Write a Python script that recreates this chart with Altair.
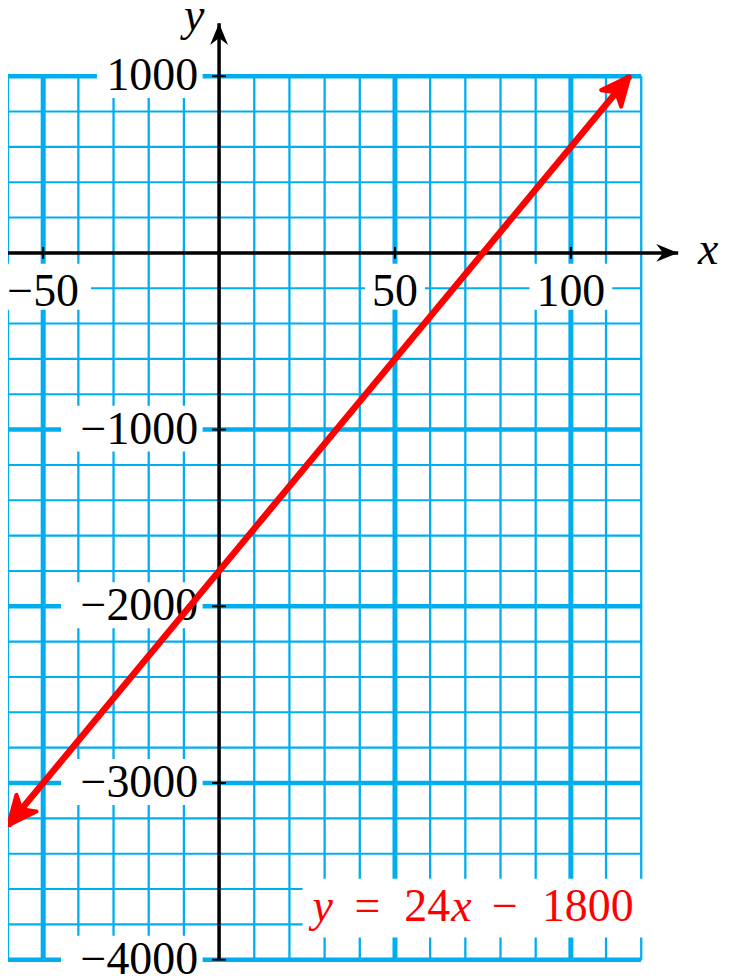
import math
import altair as alt
import pandas as pd

# ---------------- data ----------------
x_domain = [-60, 120]
y_domain = [-4000, 1000]
x_minor = list(range(-60, 121, 10))
x_major = [-50, 50, 100]
y_minor = list(range(-4000, 1001, 200))
y_major = [1000, -1000, -2000, -3000, -4000]
x_tick_vals = [-50, 50, 100]
x_tick_labels = ["−50", "50", "100"]
y_tick_vals = [1000, -1000, -2000, -3000, -4000]
y_tick_labels = ["1000", "−1000", "−2000", "−3000", "−4000"]
line_x = [-60, 116.7]
line_y = [-3240, 1000]
axis_x_end = 130.5
axis_y_end = 1300
eq_x = [72.5]
eq_y = [-3700]
eq_parts = ["y", "=", "24", "x", "−", "1800"]
eq_italic = [True, False, False, True, False, False]

# ---------------- style ----------------
W, H = 635, 886
BLUE = "#00AEEF"
RED = "#FF0000"
FONT = "Liberation Serif, Times New Roman, serif"
FS = 46
eq_dx = [-162, -120, -70, -23, 18, 68]

xs = alt.Scale(domain=x_domain, nice=False, zero=False)
ys = alt.Scale(domain=y_domain, nice=False, zero=False)
X = lambda f="x": alt.X(f"{f}:Q", scale=xs, axis=None)
Y = lambda f="y": alt.Y(f"{f}:Q", scale=ys, axis=None)


def text_w(s):
    return sum(36 if c == "−" else 23 for c in s) + 14


# grid
vminor = alt.Chart(pd.DataFrame({"x": x_minor})).mark_rule(color=BLUE, strokeWidth=2.3).encode(x=X())
hminor = alt.Chart(pd.DataFrame({"y": y_minor})).mark_rule(color=BLUE, strokeWidth=2.1).encode(y=Y())
vmajor = alt.Chart(pd.DataFrame({"x": x_major})).mark_rule(color=BLUE, strokeWidth=5).encode(x=X())
hmajor = alt.Chart(pd.DataFrame({"y": y_major})).mark_rule(color=BLUE, strokeWidth=4.5).encode(y=Y())

# label backgrounds
ybox = pd.DataFrame({
    "x": [0] * len(y_tick_vals),
    "y": y_tick_vals,
    "label": y_tick_labels,
})
ybox["path"] = [f"M{-16.5 - text_w(s)},-24H-16.5V22H{-16.5 - text_w(s)}Z" for s in y_tick_labels]
xbox = pd.DataFrame({
    "x": x_tick_vals,
    "y": [0] * len(x_tick_vals),
    "label": x_tick_labels,
})
xbox["path"] = [f"M{-text_w(s)/2},11H{text_w(s)/2}V57H{-text_w(s)/2}Z" for s in x_tick_labels]
eqdf = pd.DataFrame({"x": eq_x, "y": eq_y, "path": ["M-172,-28H174V31H-172Z"]})

def boxes(df):
    return alt.Chart(df).mark_point(filled=True, color="white", opacity=1, size=4, strokeWidth=0).encode(
        x=X(), y=Y(), shape=alt.Shape("path:N", scale=None))

ylab = alt.Chart(ybox).mark_text(font=FONT, fontSize=FS, align="right", baseline="middle", dx=-21, color="black").encode(
    x=X(), y=Y(), text="label:N")
xlab = alt.Chart(xbox).mark_text(font=FONT, fontSize=FS, align="center", baseline="middle", dy=39, color="black").encode(
    x=X(), y=Y(), text="label:N")

# axes
xaxis = alt.Chart(pd.DataFrame({"x": [x_domain[0]], "x2": [axis_x_end], "y": [0]})).mark_rule(
    color="black", strokeWidth=3.5).encode(x=X(), x2="x2:Q", y=Y())
yaxis = alt.Chart(pd.DataFrame({"x": [0], "y": [y_domain[0]], "y2": [axis_y_end]})).mark_rule(
    color="black", strokeWidth=3.5).encode(x=X(), y=Y(), y2="y2:Q")
xticks = alt.Chart(pd.DataFrame({"x": x_tick_vals, "y": [0] * 3})).mark_point(
    shape="M0,-1V1", size=144, color="black", strokeWidth=2, opacity=1).encode(x=X(), y=Y())
yticks = alt.Chart(pd.DataFrame({"x": [0] * 5, "y": y_tick_vals})).mark_point(
    shape="M-1,0H1", size=196, color="black", strokeWidth=2, opacity=1).encode(x=X(), y=Y())
AX_HEAD = "M0,0L-22,-9L-15,0L-22,9Z"
xhead = alt.Chart(pd.DataFrame({"x": [axis_x_end], "y": [0]})).mark_point(
    shape=AX_HEAD, size=4, filled=True, color="black", opacity=1, angle=0).encode(x=X(), y=Y())
yhead = alt.Chart(pd.DataFrame({"x": [0], "y": [axis_y_end]})).mark_point(
    shape=AX_HEAD, size=4, filled=True, color="black", opacity=1, angle=270).encode(x=X(), y=Y())
xtitle = alt.Chart(pd.DataFrame({"x": [axis_x_end], "y": [0], "t": ["x"]})).mark_text(
    font=FONT, fontSize=FS, fontStyle="italic", align="left", baseline="alphabetic", dx=20, dy=11, color="black").encode(
    x=X(), y=Y(), text="t:N")
ytitle = alt.Chart(pd.DataFrame({"x": [0], "y": [axis_y_end], "t": ["y"]})).mark_text(
    font=FONT, fontSize=FS, fontStyle="italic", align="center", baseline="alphabetic", dx=-25, dy=7, color="black").encode(
    x=X(), y=Y(), text="t:N")

# red line
line = alt.Chart(pd.DataFrame({"x": line_x, "y": line_y})).mark_line(color=RED, strokeWidth=6.5).encode(x=X(), y=Y())
px_x = W / (x_domain[1] - x_domain[0])
px_y = H / (y_domain[1] - y_domain[0])
slope_px = (line_y[1] - line_y[0]) / (line_x[1] - line_x[0]) * px_y / px_x
ang = math.degrees(math.atan(slope_px))
RED_HEAD = "M0,0L-29,-13L-21,0L-29,13Z"
head_up = alt.Chart(pd.DataFrame({"x": [line_x[1]], "y": [line_y[1]]})).mark_point(
    shape=RED_HEAD, size=4, filled=True, color=RED, stroke=RED, strokeWidth=4, strokeJoin="round",
    opacity=1, angle=360 - ang).encode(x=X(), y=Y())
head_dn = alt.Chart(pd.DataFrame({"x": [line_x[0]], "y": [line_y[0]]})).mark_point(
    shape=RED_HEAD, size=4, filled=True, color=RED, stroke=RED, strokeWidth=4, strokeJoin="round",
    opacity=1, angle=180 - ang).encode(x=X(), y=Y())

# equation
eq_layers = []
for part, ital, dx in zip(eq_parts, eq_italic, eq_dx):
    eq_layers.append(
        alt.Chart(pd.DataFrame({"x": eq_x, "y": eq_y, "t": [part]})).mark_text(
            font=FONT, fontSize=FS, fontStyle="italic" if ital else "normal", align="left",
            baseline="alphabetic", dx=dx, dy=14, color=RED).encode(x=X(), y=Y(), text="t:N")
    )

chart = alt.layer(
    vminor, hminor, vmajor, hmajor,
    boxes(ybox), boxes(xbox), ylab, xlab,
    xaxis, yaxis, xticks, yticks, xhead, yhead, xtitle, ytitle,
    line, head_up, head_dn,
    boxes(eqdf), *eq_layers,
).properties(
    width=W, height=H, autosize="none",
    padding={"left": 0, "top": 67, "right": 80, "bottom": 22},
    background="white",
).configure_view(stroke=None)

chart.save("out.html", embed_options={"renderer": "svg", "actions": False})
